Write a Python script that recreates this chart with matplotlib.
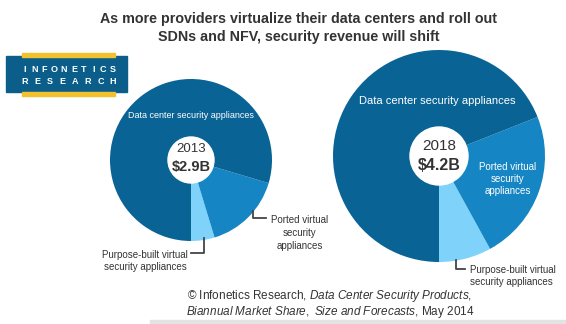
import matplotlib

matplotlib.use("Agg")
matplotlib.rcParams["font.family"] = ["Liberation Sans", "DejaVu Sans"]
matplotlib.rcParams["mathtext.fontset"] = "custom"
matplotlib.rcParams["mathtext.rm"] = "Liberation Sans"
matplotlib.rcParams["mathtext.it"] = "Liberation Sans:italic"

import matplotlib.pyplot as plt
from matplotlib.patches import Rectangle, Circle

W, H = 566, 324

# shares in drawing order: purpose-built, ported, data center (percent)
segments = ["Purpose-built virtual\nsecurity appliances",
            "Ported virtual\nsecurity\nappliances",
            "Data center security appliances"]
share_2013 = [4.7, 15.7, 79.6]
share_2018 = [8.0, 23.0, 69.0]
years = ["2013", "2018"]
totals = ["$2.9B", "$4.2B"]

colors = ["#7fd3fa", "#1585c3", "#0a6395"]
text_dark = "#333333"


def py(y):
    # pixel row -> data y
    return H - y


fig = plt.figure(figsize=(W / 100, H / 100), dpi=100)
ax = fig.add_axes([0, 0, 1, 1])

# donuts
pies = [(share_2013, (191, 160), 81, 23), (share_2018, (439, 156), 106, 29)]
for shares, (cx, cy), r, hole in pies:
    ax.pie(shares, colors=colors, startangle=270, counterclock=True,
           center=(cx, py(cy)), radius=r, frame=True,
           wedgeprops=dict(linewidth=0))
    ax.add_patch(Circle((cx, py(cy)), hole, color="white", zorder=3))

ax.set_xlim(0, W)
ax.set_ylim(0, H)
ax.set_aspect("equal")
ax.axis("off")

# centre labels
ax.text(191, py(149), years[0], ha="center", va="center", fontsize=9.5, color=text_dark, zorder=4)
ax.text(191, py(167), totals[0], ha="center", va="center", fontsize=10.5, weight="bold", color=text_dark, zorder=4)
ax.text(439, py(146), years[1], ha="center", va="center", fontsize=11, color=text_dark, zorder=4)
ax.text(439, py(166), totals[1], ha="center", va="center", fontsize=11.5, weight="bold", color=text_dark, zorder=4)

# in-wedge labels
ax.text(191, py(116), segments[2], ha="center", va="center", fontsize=6.5, color="white", zorder=4)
ax.text(437, py(101), segments[2], ha="center", va="center", fontsize=8, color="white", zorder=4)
ax.text(508, py(179), segments[1], ha="center", va="center", fontsize=7, color="white",
        linespacing=1.3, zorder=4)

# callouts
line_kw = dict(color="#444444", lw=1.3, zorder=4)
ax.plot([253, 253, 266], [py(211), py(218), py(218)], **line_kw)
ax.text(300, py(233), segments[1], ha="center", va="center", fontsize=7, color=text_dark,
        linespacing=1.35)
ax.plot([204, 204, 191], [py(238), py(253), py(253)], **line_kw)
ax.text(145, py(261), segments[0], ha="center", va="center", fontsize=7, color=text_dark,
        linespacing=1.35)
ax.plot([456, 456, 465], [py(260), py(269), py(269)], **line_kw)
ax.text(470, py(276), segments[0], ha="left", va="center", fontsize=7, color=text_dark,
        linespacing=1.35)

# title
ax.text(299, py(28), "As more providers virtualize their data centers and roll out\n"
        "SDNs and NFV, security revenue will shift", ha="center", va="center",
        fontsize=10.3, weight="bold", color=text_dark, linespacing=1.4)

# logo
ax.add_patch(Rectangle((6, py(92)), 121, 36, color="#0b5e8a", zorder=5))
for yb in (57, 96):
    ax.add_patch(Rectangle((22, py(yb)), 93, 4, color="#f2c12e", zorder=5))
for word, yy in (("INFONETICS", 69), ("RESEARCH", 81)):
    n = len(word)
    for i, ch in enumerate(word):
        xx = 25 + i * (88 / (n - 1))
        ax.text(xx, py(yy), ch, ha="center", va="center", fontsize=6.5,
                weight="bold", color="white", zorder=6)

# source
ax.text(330, py(296), "© Infonetics Research, $\\it{Data\\ Center\\ Security\\ Products,}$",
        ha="center", va="center", fontsize=8.5, color=text_dark)
ax.text(330, py(312), "$\\it{Biannual\\ Market\\ Share,\\ Size\\ and\\ Forecasts}$, May 2014",
        ha="center", va="center", fontsize=8.5, color=text_dark)
ax.add_patch(Rectangle((150, 0), W - 150, 4, color="#e3e3e3", zorder=1))

fig.savefig("out.png", dpi=100)
